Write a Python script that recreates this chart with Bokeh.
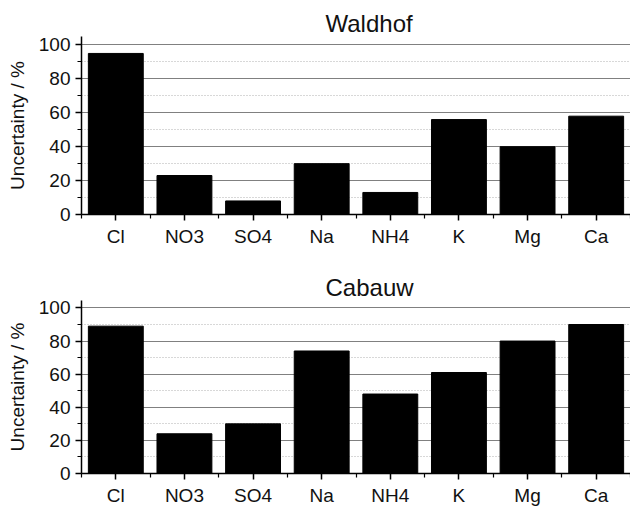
from bokeh.plotting import figure
from bokeh.models import FixedTicker, Range1d
from bokeh.layouts import column
from bokeh.embed import file_html
from bokeh.resources import INLINE

ions = ["Cl", "NO3", "SO4", "Na", "NH4", "K", "Mg", "Ca"]
waldhof = [95, 23, 8, 30, 13, 56, 40, 58]
cabauw = [89, 24, 30, 74, 48, 61, 80, 90]
y_major = [0, 20, 40, 60, 80, 100]
y_minor = [0, 10, 20, 30, 40, 50, 60, 70, 80, 90, 100]

FONT = "Liberation Sans"


def make(name, vals, height, top, bottom, ytop):
    xs = [i + 0.5 for i in range(len(ions))]
    p = figure(width=630, height=height, output_backend="svg", toolbar_location=None,
               x_range=Range1d(0, len(ions)), y_range=Range1d(0, ytop),
               min_border_left=81, min_border_right=0,
               min_border_top=top, min_border_bottom=bottom)
    p.outline_line_color = None
    p.background_fill_color = "white"
    p.vbar(x=xs, top=vals, width=0.8, fill_color="black", line_color="black")

    p.title.text = name
    p.title.text_font = FONT
    p.title.text_font_size = "24px"
    p.title.text_font_style = "normal"
    p.title.text_color = "#111111"
    p.title.align = "left"
    p.title.offset = 244
    p.title.standoff = 0

    xa = p.xaxis[0]
    xa.ticker = FixedTicker(ticks=xs, minor_ticks=list(range(len(ions) + 1)))
    xa.major_label_overrides = {x: n for x, n in zip(xs, ions)}
    ya = p.yaxis[0]
    ya.ticker = FixedTicker(ticks=y_major, minor_ticks=y_minor)
    ya.axis_label = "Uncertainty / %"
    for ax in (xa, ya):
        ax.axis_line_color = "black"
        ax.axis_line_width = 1.5
        ax.major_tick_line_color = "black"
        ax.major_tick_line_width = 1.5
        ax.minor_tick_line_color = "black"
        ax.minor_tick_line_width = 1.2
        ax.major_tick_in = 0
        ax.major_tick_out = 6
        ax.minor_tick_in = 0
        ax.minor_tick_out = 4
        ax.major_label_text_font = FONT
        ax.major_label_text_font_size = "19px"
        ax.major_label_text_color = "#111111"
        ax.major_label_standoff = 5
    ya.axis_label_text_font = FONT
    ya.axis_label_text_font_size = "19px"
    ya.axis_label_text_font_style = "normal"
    ya.axis_label_text_color = "#111111"
    ya.axis_label_standoff = 8

    p.xgrid.visible = False
    p.ygrid.ticker = FixedTicker(ticks=y_major, minor_ticks=y_minor)
    p.ygrid.grid_line_color = "#808080"
    p.ygrid.grid_line_width = 1
    p.ygrid.minor_grid_line_color = "#b0b0b0"
    p.ygrid.minor_grid_line_dash = "1 2"
    p.ygrid.minor_grid_line_width = 1
    return p


p1 = make("Waldhof", waldhof, 254, 36, 40, 105)
p2 = make("Cabauw", cabauw, 254, 46, 30, 104.5)
layout = column(p1, p2, spacing=0)

open("out.html", "w").write(file_html(layout, INLINE))
